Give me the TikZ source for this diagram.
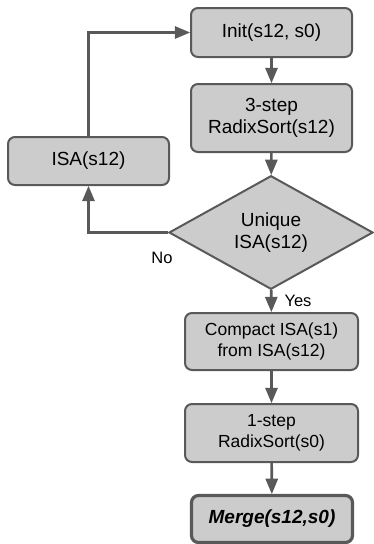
\documentclass[tikz,border=0pt]{standalone}
\usepackage{fontspec}
\setmainfont{Liberation Sans}
\usepackage{tikz}
\usetikzlibrary{shapes.geometric, arrows}

\definecolor{boxfill}{RGB}{204,204,204}
\definecolor{boxline}{RGB}{89,89,89}

\begin{document}
\begin{tikzpicture}[->, >=triangle 45, x=1pt, y=-1pt,
    flow/.style={line width=2.6pt, draw=boxline},
    procbox/.style={rectangle, rounded corners=7pt, draw=boxline, fill=boxfill,
        line width=2pt, minimum width=161pt, inner sep=0pt, align=center,
        font=\fontsize{19}{22}\selectfont},
    decbox/.style={diamond, draw=boxline, fill=boxfill, line width=2pt,
        minimum width=204pt, minimum height=113pt, inner sep=0pt, align=center,
        font=\fontsize{19}{22}\selectfont},
    lbl/.style={font=\fontsize{16.5}{19}\selectfont}]
    \useasboundingbox (0,0) rectangle (373,544);
    	\node[procbox, minimum height=49pt] (init) at (271.5,32.5) {Init(s12, s0)};
    	\node[procbox, minimum height=68pt] (sort3) at (271.5,118) {3-step\\RadixSort(s12)};
    	\node[procbox, minimum height=48pt] (isa) at (88.5,161) {ISA(s12)};
    	\node[decbox] (uniq) at (271,232.5) {Unique\\ISA(s12)};
    	\node[procbox, minimum width=173pt, minimum height=57pt, font=\fontsize{17.5}{20.5}\selectfont] (compact) at (271.5,341.5) {Compact ISA(s1)\\from ISA(s12)};
    	\node[procbox, minimum width=173pt, minimum height=58pt, font=\fontsize{17.5}{20.5}\selectfont] (sort1) at (271.5,433) {1-step\\RadixSort(s0)};
    	\node[procbox, line width=3.2pt, minimum height=47pt, font=\fontsize{19}{22}\selectfont\bfseries\itshape] (merge) at (272,519) {Merge(s12,s0)};
    	\draw[flow] (init) -- (sort3);
    	\draw[flow] (sort3) -- (uniq);
    	\draw[flow] (uniq.west) -| (isa.south);
    	\draw[flow] (isa.north) |- (init.west);
    	\draw[flow] (uniq) -- (compact);
    	\draw[flow] (compact) -- (sort1);
    	\draw[flow] (sort1) -- (merge);
    	\node[lbl] (no) at (162,258) {No};
    	\node[lbl] (yes) at (298,301) {Yes};
    \end{tikzpicture}
\end{document}
